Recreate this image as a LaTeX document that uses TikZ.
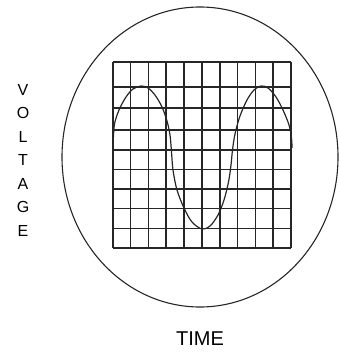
\documentclass[tikz,border=0pt]{standalone}
\usepackage{fontspec}
\setmainfont{Liberation Sans}
\begin{document}
\begin{tikzpicture}[x=1pt,y=-1pt,
  gridline/.style={line width=1.7pt,black!85},
  tube/.style={line width=1.1pt,black!85},
  wave/.style={line width=1.2pt,black!85},
  lbl/.style={inner sep=0pt,font=\fontsize{16}{16}\selectfont}]
\useasboundingbox (0,0) rectangle (339,353);
% screen outline
\draw[tube] (200,157) ellipse [x radius=138, y radius=150];
% graticule
\foreach \x in {112.8,130.6,148.4,166.3,184.1,201.9,219.7,237.5,255.4,273.2,291} {
  \draw[gridline] (\x,62.3) -- (\x,248.3);
}
\foreach \y in {62.3,86.8,108.3,129.8,150,169.5,188.7,208.6,228.5,248.3} {
  \draw[gridline] (112.8,\y) -- (291,\y);
}
% waveform
\draw[wave] plot[smooth,tension=0.55] coordinates {
  (113.5,137) (114.5,124) (119,110) (126,97) (133,89) (141,86) (148,88)
  (155,95) (162,107) (167,121) (170,135) (171.5,152) (173,170) (177,190)
  (184,208) (192,222) (202,229) (210,226) (218,215) (224,200) (228.5,182)
  (231,165) (232.5,150) (235,134) (240,116) (247,100) (254,90) (261,86)
  (268,88) (276,97) (283,110) (289,125) (291.5,138) (292,148)};
% labels
\foreach \c [count=\i from 0] in {V,O,L,T,A,G,E} {
  \node[lbl] (v\i) at (23,{90+23.45*\i}) {\c};
}
\node[lbl,font=\fontsize{20}{20}\selectfont] (time) at (200,338.5) {TIME};
\end{tikzpicture}
\end{document}
